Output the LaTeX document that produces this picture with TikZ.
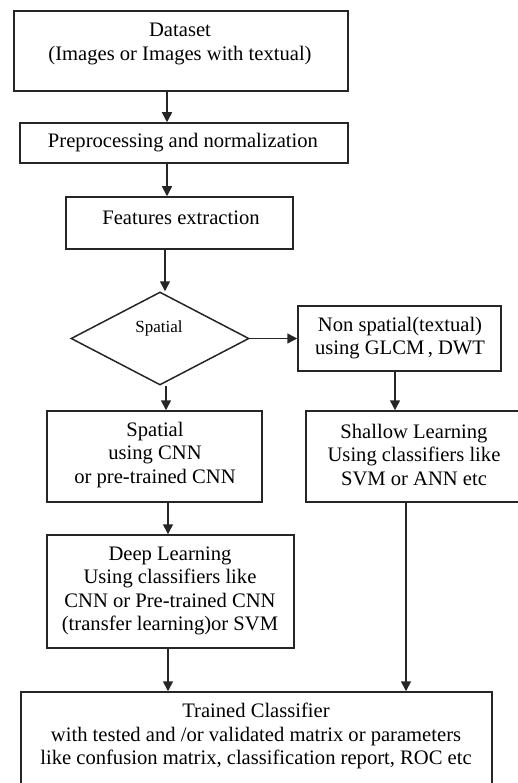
\documentclass[tikz,border=0pt]{standalone}
\usepackage{fontspec}
\setmainfont{Liberation Serif}
\usetikzlibrary{shapes.geometric,arrows.meta}
\begin{document}
\begin{tikzpicture}[x=1pt,y=-1pt,
  box/.style={draw=black!85,line width=1.5pt,rectangle,inner sep=0pt,fill=none},
  txt/.style={inner sep=0pt,align=center,font=\fontsize{20.6}{23.3}\selectfont},
  stxt/.style={inner sep=0pt,align=center,font=\fontsize{17}{20}\selectfont},
  arr/.style={draw=black!85,line width=1.5pt,-{Triangle[width=10pt,length=10pt]}}]
\useasboundingbox (0,0) rectangle (518,783);
\clip (0,0) rectangle (518,783);
% boxes
\node[box,minimum width=334pt,minimum height=80pt] (dataset) at (181,51) {};
\node[box,minimum width=328pt,minimum height=40pt] (prep) at (184,143) {};
\node[box,minimum width=227pt,minimum height=52pt] (feat) at (179.5,223) {};
\node[draw=black!85,line width=1.5pt,diamond,inner sep=0pt,minimum width=178pt,minimum height=93pt] (dia) at (160,338.5) {};
\node[box,minimum width=203pt,minimum height=65pt] (nonsp) at (399.5,338.5) {};
\node[box,minimum width=215pt,minimum height=91pt] (scnn) at (154.5,456.5) {};
\node[box,minimum width=240pt,minimum height=91pt] (shallow) at (426,456.5) {};
\node[box,minimum width=247pt,minimum height=113pt] (deep) at (170.5,591.5) {};
\node[box,minimum width=471pt,minimum height=120pt] (trained) at (256.5,752) {};
% texts
\node[txt] (datasett) at (180,44) {Dataset\\(Images or Images with textual)};
\node[txt] (prept) at (183,143) {Preprocessing and normalization};
\node[txt] (featt) at (181,218) {Features extraction};
\node[stxt] (diat) at (159,328) {Spatial};
\node[txt] (nonspt) at (400,338) {Non spatial(textual)\\using GLCM\,, DWT};
\node[txt] (scnnt) at (155,455) {Spatial\\using CNN\\or pre-trained CNN};
\node[txt] (shallowt) at (414,455) {Shallow Learning\\Using classifiers like\\SVM or ANN etc};
\node[txt] (deept) at (170,591) {Deep Learning\\Using classifiers like\\CNN or Pre-trained CNN\\(transfer learning)or SVM};
\node[txt] (trainedt) at (256,736) {Trained Classifier\\with tested and /or validated matrix or parameters\\like confusion matrix, classification report, ROC etc};
% x positions
\coordinate (x1) at (167,0);
\coordinate (x2) at (165,0);
\coordinate (x3) at (166,0);
\coordinate (x4) at (168,0);
\coordinate (x5) at (395,0);
\coordinate (x6) at (406,0);
% arrows
\draw[arr] (dataset.south -| x1) -- (prep.north -| x1);
\draw[arr] (prep.south -| x1) -- (feat.north -| x1);
\draw[arr] (feat.south -| x2) -- (dia.north -| x2);
\draw[arr] (dia.east) -- (nonsp.west |- dia.east);
\draw[arr] (dia.south -| x3) -- (scnn.north -| x3);
\draw[arr] (nonsp.south -| x5) -- (shallow.north -| x5);
\draw[arr] (scnn.south -| x4) -- (deep.north -| x4);
\draw[arr] (deep.south -| x4) -- (trained.north -| x4);
\draw[arr] (shallow.south -| x6) -- (trained.north -| x6);
\end{tikzpicture}
\end{document}
